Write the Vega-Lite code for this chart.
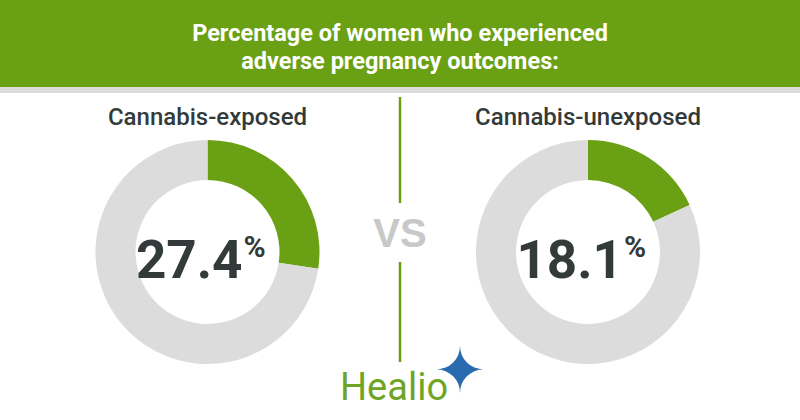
{
  "$schema": "https://vega.github.io/schema/vega-lite/v6.json",
  "width": 800,
  "height": 420,
  "autosize": {"type": "fit", "contains": "padding"},
  "padding": 0,
  "background": "white",
  "config": {"view": {"stroke": null}},
  "datasets": {
    "donut": [
      {"group": "Cannabis-exposed", "part": "Adverse outcome", "pct": 27.4},
      {"group": "Cannabis-exposed", "part": "No adverse outcome", "pct": 72.6},
      {"group": "Cannabis-unexposed", "part": "Adverse outcome", "pct": 18.1},
      {"group": "Cannabis-unexposed", "part": "No adverse outcome", "pct": 81.9}
    ],
    "header": [
      {"line": 1, "text": "Percentage of women who experienced"},
      {"line": 2, "text": "adverse pregnancy outcomes:"}
    ]
  },
  "resolve": {"scale": {"x": "independent", "y": "independent"}},
  "layer": [
    {
      "data": {"values": [{}]},
      "mark": {"type": "rect", "color": "#6aa013"},
      "encoding": {
        "x": {"datum": 0, "type": "quantitative", "scale": {"domain": [0, 800]}, "axis": null},
        "x2": {"datum": 800},
        "y": {"datum": 0, "type": "quantitative", "scale": {"domain": [0, 420], "reverse": true}, "axis": null},
        "y2": {"datum": 87}
      }
    },
    {
      "data": {"values": [{}]},
      "mark": {"type": "rect", "color": "#dcdcdc"},
      "encoding": {
        "x": {"datum": 0, "type": "quantitative", "scale": {"domain": [0, 800]}, "axis": null},
        "x2": {"datum": 800},
        "y": {"datum": 87, "type": "quantitative", "scale": {"domain": [0, 420], "reverse": true}, "axis": null},
        "y2": {"datum": 93}
      }
    },
    {
      "data": {"name": "header"},
      "mark": {"type": "text", "color": "white", "font": "Roboto", "fontWeight": "bold", "fontSize": 23.5, "align": "center", "baseline": "alphabetic"},
      "encoding": {
        "x": {"datum": 400, "type": "quantitative", "scale": {"domain": [0, 800]}, "axis": null},
        "y": {"field": "line", "type": "quantitative", "axis": null, "scale": {"type": "linear", "domain": [1, 2], "range": [41, 69]}},
        "text": {"field": "text"}
      }
    },
    {
      "data": {"name": "donut"},
      "transform": [{"filter": "datum.group === 'Cannabis-exposed'"}],
      "mark": {"type": "arc", "radius": 112, "radius2": 72},
      "encoding": {
        "x": {"field": "group", "type": "nominal", "axis": null, "scale": {"type": "point", "domain": ["Cannabis-exposed", "Cannabis-unexposed"], "range": [207.5, 588], "padding": 0}},
        "y": {"datum": 252, "type": "quantitative", "scale": {"domain": [0, 420], "reverse": true}, "axis": null},
        "theta": {"field": "pct", "type": "quantitative", "stack": true, "scale": {"domain": [0, 100]}},
        "color": {"field": "part", "type": "nominal", "legend": null, "scale": {"domain": ["Adverse outcome", "No adverse outcome"], "range": ["#6aa013", "#dcdcdc"]}},
        "order": {"field": "part"}
      }
    },
    {
      "data": {"name": "donut"},
      "transform": [{"filter": "datum.group === 'Cannabis-unexposed'"}],
      "mark": {"type": "arc", "radius": 112, "radius2": 72},
      "encoding": {
        "x": {"field": "group", "type": "nominal", "axis": null, "scale": {"type": "point", "domain": ["Cannabis-exposed", "Cannabis-unexposed"], "range": [207.5, 588], "padding": 0}},
        "y": {"datum": 252, "type": "quantitative", "scale": {"domain": [0, 420], "reverse": true}, "axis": null},
        "theta": {"field": "pct", "type": "quantitative", "stack": true, "scale": {"domain": [0, 100]}},
        "color": {"field": "part", "type": "nominal", "legend": null},
        "order": {"field": "part"}
      }
    },
    {
      "data": {"name": "donut"},
      "transform": [{"filter": "datum.part === 'Adverse outcome'"}],
      "mark": {"type": "text", "color": "#333a3a", "font": "Roboto", "fontWeight": 500, "fontSize": 24, "align": "center", "baseline": "middle"},
      "encoding": {
        "x": {"field": "group", "type": "nominal", "axis": null, "scale": {"type": "point", "domain": ["Cannabis-exposed", "Cannabis-unexposed"], "range": [207.5, 588], "padding": 0}},
        "y": {"datum": 118, "type": "quantitative", "scale": {"domain": [0, 420], "reverse": true}, "axis": null},
        "text": {"field": "group"}
      }
    },
    {
      "data": {"name": "donut"},
      "transform": [{"filter": "datum.part === 'Adverse outcome'"}],
      "mark": {"type": "text", "color": "#333a3a", "font": "Roboto", "fontWeight": "bold", "fontSize": 53, "align": "right", "baseline": "alphabetic", "dx": 35},
      "encoding": {
        "x": {"field": "group", "type": "nominal", "axis": null, "scale": {"type": "point", "domain": ["Cannabis-exposed", "Cannabis-unexposed"], "range": [207.5, 588], "padding": 0}},
        "y": {"datum": 278, "type": "quantitative", "scale": {"domain": [0, 420], "reverse": true}, "axis": null},
        "text": {"field": "pct", "format": ".1f"}
      }
    },
    {
      "data": {"name": "donut"},
      "transform": [{"filter": "datum.part === 'Adverse outcome'"}],
      "mark": {"type": "text", "color": "#333a3a", "font": "Roboto", "fontWeight": "bold", "fontSize": 30, "align": "left", "baseline": "alphabetic", "dx": 36, "text": "%"},
      "encoding": {
        "x": {"field": "group", "type": "nominal", "axis": null, "scale": {"type": "point", "domain": ["Cannabis-exposed", "Cannabis-unexposed"], "range": [207.5, 588], "padding": 0}},
        "y": {"datum": 257, "type": "quantitative", "scale": {"domain": [0, 420], "reverse": true}, "axis": null}
      }
    },
    {
      "data": {"values": [{"y": 97, "y2": 203}, {"y": 262, "y2": 362}]},
      "mark": {"type": "rule", "color": "#6aa013", "strokeWidth": 2.5},
      "encoding": {
        "x": {"datum": 400, "type": "quantitative", "scale": {"domain": [0, 800]}, "axis": null},
        "y": {"field": "y", "type": "quantitative", "scale": {"domain": [0, 420], "reverse": true}, "axis": null},
        "y2": {"field": "y2"}
      }
    },
    {
      "data": {"values": [{}]},
      "mark": {"type": "text", "text": "VS", "color": "#c8c8c8", "font": "Liberation Sans", "fontWeight": "bold", "fontSize": 40, "align": "center", "baseline": "alphabetic"},
      "encoding": {
        "x": {"datum": 400, "type": "quantitative", "scale": {"domain": [0, 800]}, "axis": null},
        "y": {"datum": 247, "type": "quantitative", "scale": {"domain": [0, 420], "reverse": true}, "axis": null}
      }
    },
    {
      "data": {"values": [{}]},
      "mark": {"type": "text", "text": "Healio", "color": "#6fa526", "font": "Roboto", "fontSize": 38, "align": "left", "baseline": "alphabetic"},
      "encoding": {
        "x": {"datum": 340, "type": "quantitative", "scale": {"domain": [0, 800]}, "axis": null},
        "y": {"datum": 400, "type": "quantitative", "scale": {"domain": [0, 420], "reverse": true}, "axis": null}
      }
    },
    {
      "data": {"values": [{}]},
      "mark": {"type": "text", "text": "✦", "color": "#2a6bb0", "font": "DejaVu Sans", "fontSize": 62, "align": "center", "baseline": "middle"},
      "encoding": {
        "x": {"datum": 460, "type": "quantitative", "scale": {"domain": [0, 800]}, "axis": null},
        "y": {"datum": 373, "type": "quantitative", "scale": {"domain": [0, 420], "reverse": true}, "axis": null}
      }
    }
  ]
}
